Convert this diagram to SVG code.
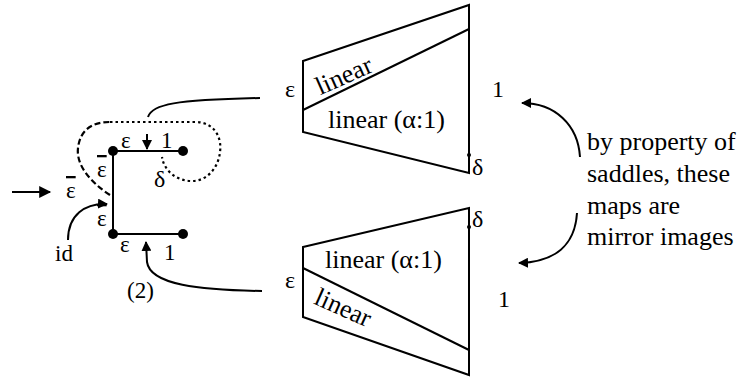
<svg xmlns="http://www.w3.org/2000/svg" width="755" height="379" viewBox="0 0 755 379" font-family="'Liberation Serif', serif">
<style>
text{font-family:'Liberation Serif',serif;fill:#000}
.lb{font-size:24px}
.sm{font-size:23px}
.big{font-size:26px}
.ln{stroke:#000;stroke-width:2;fill:none}
.shape{stroke:#000;stroke-width:2;fill:#fff;stroke-linejoin:miter}
.dot{fill:#000}
.ov{text-decoration:overline}
.dot-line{stroke:#000;stroke-width:2.2;fill:none;stroke-dasharray:2.5 3}
.dash-line{stroke:#000;stroke-width:2.2;fill:none;stroke-dasharray:6 3}
</style>
<defs>
<marker id="ah" viewBox="0 0 10 10" refX="9" refY="5" markerWidth="5" markerHeight="5" orient="auto" markerUnits="strokeWidth">
<path d="M0,0 L10,5 L0,10 z" fill="#000"/>
</marker>
<marker id="ahb" viewBox="0 0 10 10" refX="9" refY="5" markerWidth="7" markerHeight="6" orient="auto" markerUnits="strokeWidth">
<path d="M0,0 L10,5 L0,10 z" fill="#000"/>
</marker>
</defs>

<g id="graph2">
<path class="ln" d="M183,151 L113,151 L113,234 L183,234"/>
<circle class="dot" cx="113" cy="151" r="5"/>
<circle class="dot" cx="183" cy="151" r="5"/>
<circle class="dot" cx="113" cy="234" r="5"/>
<circle class="dot" cx="183" cy="234" r="5"/>
<text class="sm" x="121" y="148">ε</text>
<text class="sm" x="161" y="148">1</text>
<text class="lb" x="154" y="187">δ</text>
<text class="sm ov" x="97" y="177">ε</text>
<text class="sm ov" x="97" y="226">ε</text>
<text class="sm ov" x="66" y="198">ε</text>
<text class="sm" x="120" y="252">ε</text>
<text class="sm" x="164" y="260">1</text>
<text class="sm" x="55" y="261">id</text>
<text class="sm" x="127" y="298">(2)</text>
<path class="dash-line" d="M110,195 C90,182 76,165 78,148 C80,130 92,122 110,122"/>
<path class="dot-line" d="M110,122 L195,122 C215,122 222,138 220,152 C218,170 205,182 190,181 C175,180 164,170 162,157"/>
</g>

<g id="map-top">
<path class="shape" d="M303,61 L469,5 L469,173 L303,132 Z"/>
<path class="ln" d="M303,110 L469,29"/>
<circle class="dot" cx="469" cy="155" r="2"/>
<text class="big" transform="translate(344,76) rotate(-24)" x="0" y="8" text-anchor="middle">linear</text>
<text class="big" x="328" y="128">linear (α:1)</text>
<text class="lb" x="285" y="97">ε</text>
<text class="lb" x="492" y="97">1</text>
<text class="lb" x="472" y="175">δ</text>
</g>

<g id="map-bottom">
<path class="shape" d="M303,247 L469,208 L469,375 L303,317 Z"/>
<path class="ln" d="M303,268 L469,350"/>
<circle class="dot" cx="469" cy="227" r="2"/>
<text class="big" transform="translate(343,308) rotate(24)" x="0" y="8" text-anchor="middle">linear</text>
<text class="big" x="325" y="268">linear (α:1)</text>
<text class="lb" x="285" y="288">ε</text>
<text class="lb" x="498" y="307">1</text>
<text class="lb" x="472" y="227">δ</text>
</g>

<g id="note">
<text class="big" x="587" y="150">by property of</text>
<text class="big" x="587" y="182">saddles, these</text>
<text class="big" x="587" y="214">maps  are</text>
<text class="big" x="587" y="245">mirror images</text>
</g>

<g id="connectors">
<path class="ln" d="M12,192 L50,192" marker-end="url(#ahb)"/>
<path class="ln" d="M147,134 L147,149" stroke-width="1.6" marker-end="url(#ah)"/>
<path class="ln" d="M148,117 C152,104 175,100 260,98"/>
<path class="ln" d="M262,291 C200,290 150,285 147,262 L146,242" marker-end="url(#ah)"/>
<path class="ln" d="M68,240 C68,215 85,203 107,204" marker-end="url(#ah)"/>
<path class="ln" d="M580,157 C578,125 555,103 522,103" marker-end="url(#ah)"/>
<path class="ln" d="M577,213 C575,245 555,262 519,263" marker-end="url(#ah)"/>
</g>
</svg>
